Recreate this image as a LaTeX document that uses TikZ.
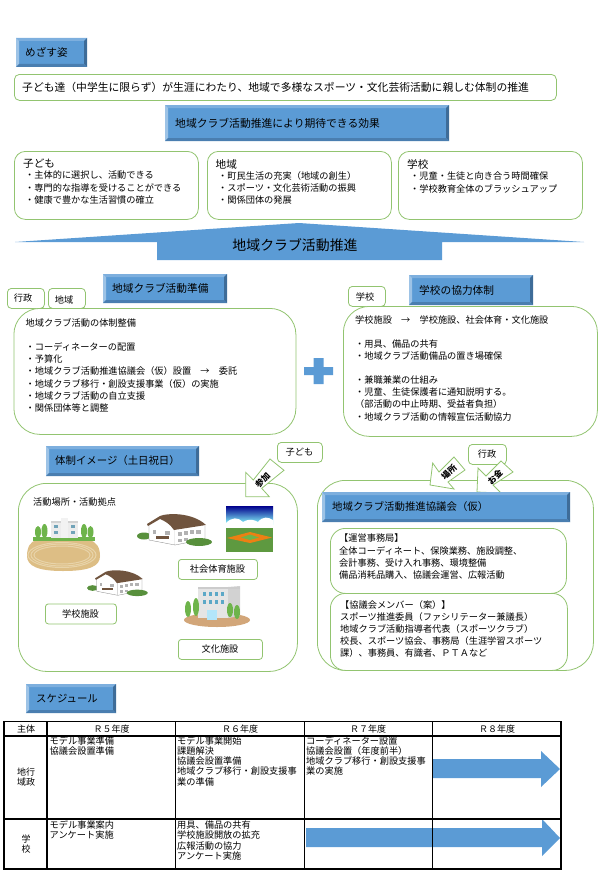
\documentclass[tikz,border=0pt]{standalone}
\usepackage{fontspec}
\setmainfont{Noto Sans CJK JP}
\usepackage{xcolor}
\definecolor{faceblue}{RGB}{91,155,213}
\definecolor{softgreen}{RGB}{146,196,112}
\definecolor{bevellight}{RGB}{125,175,222}
\definecolor{bevelpale}{RGB}{157,195,230}
\definecolor{beveldark}{RGB}{62,108,152}
\definecolor{bevelmid}{RGB}{74,126,176}
\definecolor{roofbrown}{RGB}{112,84,62}
\definecolor{sandtan}{RGB}{232,212,170}
\definecolor{sandedge}{RGB}{221,190,133}
\definecolor{leafgreen}{RGB}{110,180,75}
\tikzset{
  softbox/.style={draw=softgreen,line width=0.8pt,fill=white,inner sep=0pt,anchor=north west},
  plaintext/.style={inner sep=0pt,anchor=north west,align=left,font=\fontsize{9.2}{12.2}\selectfont},
  labeltext/.style={inner sep=0pt,font=\fontsize{9.2}{12.2}\selectfont},
  titletext/.style={inner sep=0pt,anchor=west,font=\fontsize{10.6}{11}\selectfont},
  tablecell/.style={inner sep=0pt,anchor=north west,align=left,font=\fontsize{9.2}{10.3}\selectfont},
  tablehead/.style={inner sep=0pt,font=\fontsize{9}{10}\selectfont},
  blockarrow/.style={fill=faceblue,draw=none},
  sidearrow/.style={fill=white,draw=softgreen,line width=0.8pt},
  sidelabel/.style={inner sep=0pt,rotate=45,font=\fontsize{8.5}{8.5}\selectfont\bfseries},
  thickrule/.style={line width=1.2pt},
  thinrule/.style={line width=0.7pt}
}
\newcommand{\bevelbox}[8]{
  \fill[faceblue] (#2,#3) rectangle (#4,#5);
  \fill[bevellight] (#2,#3)--(#4,#3)--(#4-3,#3+3)--(#2+3,#3+3)--cycle;
  \fill[bevelpale] (#2,#3)--(#2+3,#3+3)--(#2+3,#5-3)--(#2,#5)--cycle;
  \fill[beveldark] (#4,#3)--(#4,#5)--(#4-3,#5-3)--(#4-3,#3+3)--cycle;
  \fill[bevelmid] (#2,#5)--(#4,#5)--(#4-3,#5-3)--(#2+3,#5-3)--cycle;
  \node[inner sep=0pt,anchor=west,font=\fontsize{#7}{#7}\selectfont] (#1) at (#6,#3/2+#5/2) {#8};
}
\newcommand{\gympic}[3]{
  \begin{scope}[shift={(#1,#2)},scale=#3]
    \fill[leafgreen!80!black] (7,21) ellipse (7 and 3.5);
    \fill[white] (12,10)--(23,3)--(38,15)--(38,30)--(12,25)--cycle;
    \draw[gray,line width=0.3pt] (12,10)--(12,25)--(38,30)--(38,15);
    \fill[white] (38,15)--(68,11)--(68,24)--(38,30)--cycle;
    \draw[gray,line width=0.3pt] (68,11)--(68,24)--(38,30);
    \fill[roofbrown] (23,1) .. controls (30,-2) and (55,-3) .. (69,10)--(37,15) .. controls (33,9) and (28,6) .. (23,4) -- (11,11) -- (10,9) --cycle;
    \fill[gray!60] (16,15) rectangle (19,19);
    \fill[gray!60] (28,16) rectangle (33,20);
    \fill[roofbrown] (19,21) rectangle (32,23.5);
    \fill[gray!60] (41,17) rectangle (45,21);
    \fill[gray!60] (47,16) rectangle (51,20);
    \fill[gray!60] (53,15) rectangle (57,19);
    \fill[gray!60] (59,15) rectangle (64,19);
    \fill[gray!60] (41,24) rectangle (45,27);
    \fill[gray!60] (47,23) rectangle (51,26);
    \fill[leafgreen!80!black] (62,27) ellipse (13 and 4);
  \end{scope}
}
\begin{document}
\begin{tikzpicture}[x=1pt,y=-1pt]
  \useasboundingbox (0,0) rectangle (604,883);

  \bevelbox{goalhead}{16}{38}{87}{67}{25}{10.6}{めざす姿}
  \node[softbox,rounded corners=5pt,minimum width=542pt,minimum height=26pt] (goalbox) at (14,74) {};
  \node[labeltext,anchor=west,font=\fontsize{10.8}{12}\selectfont] (goaltext) at (22,87) {子ども達（中学生に限らず）が生涯にわたり、地域で多様なスポーツ・文化芸術活動に親しむ体制の推進};
  \bevelbox{effecthead}{165}{105}{449}{141}{175}{10.8}{地域クラブ活動推進により期待できる効果}

  \node[softbox,rounded corners=11pt,minimum width=184pt,minimum height=68pt] (childbox) at (14,151) {};
  \node[titletext] (childtitle) at (23,164) {子ども};
  \node[plaintext] (childtext) at (25,171) {・主体的に選択し、活動できる\\・専門的な指導を受けることができる\\・健康で豊かな生活習慣の確立};
  \node[softbox,rounded corners=11pt,minimum width=184pt,minimum height=68pt] (areabox) at (207,151) {};
  \node[titletext] (areatitle) at (215.5,164) {地域};
  \node[plaintext] (areatext) at (218,171) {・町民生活の充実（地域の創生）\\・スポーツ・文化芸術活動の振興\\・関係団体の発展};
  \node[softbox,rounded corners=11pt,minimum width=184pt,minimum height=68pt] (schoolbox) at (398,151) {};
  \node[titletext] (schooltitle) at (407,164) {学校};
  \node[plaintext] (schooltext) at (410,172) {・児童・生徒と向き合う時間確保\\・学校教育全体のブラッシュアップ};

  \path[blockarrow] (299,223)--(584,242)--(442,242)--(442,260)--(157,260)--(157,242)--(15,242)--cycle;
  \node[inner sep=0pt,font=\fontsize{13.9}{14}\selectfont] (clubarrow) at (295,245) {地域クラブ活動推進};

  \bevelbox{prephead}{103}{274}{227}{303}{112}{10.7}{地域クラブ活動準備}
  \node[softbox,rounded corners=4pt,minimum width=37pt,minimum height=20pt] (admintag) at (7,288) {};
  \node[labeltext] (admintext) at (23,298.5) {行政};
  \node[softbox,rounded corners=4pt,minimum width=37pt,minimum height=20pt] (areatag) at (48,288) {};
  \node[labeltext] (areatagtext) at (64,299.5) {地域};
  \node[softbox,rounded corners=26pt,minimum width=282pt,minimum height=126pt] (prepbox) at (13.5,308) {};
  \node[plaintext] (preptext) at (25.5,318) {地域クラブ活動の体制整備\\[12.2pt]\hspace{0pt}・コーディネーターの配置\\・予算化\\・地域クラブ活動推進協議会（仮）設置　→　委託\\・地域クラブ移行・創設支援事業（仮）の実施\\・地域クラブ活動の自立支援\\・関係団体等と調整};

  \node[softbox,rounded corners=4pt,minimum width=37pt,minimum height=20pt] (schooltag) at (348,286) {};
  \node[labeltext] (schooltagtext) at (365,296.5) {学校};
  \bevelbox{coophead}{409}{275}{533}{305}{419}{10.7}{学校の協力体制}
  \node[softbox,rounded corners=26pt,minimum width=254pt,minimum height=130pt] (coopbox) at (343,306) {};
  \node[plaintext] (cooptext) at (355,316) {学校施設　→　学校施設、社会体育・文化施設\\[11pt]\hspace{0pt}・用具、備品の共有\\・地域クラブ活動備品の置き場確保\\[12pt]\hspace{0pt}・兼職兼業の仕組み\\・児童、生徒保護者に通知説明する。\\（部活動の中止時期、受益者負担）\\・地域クラブ活動の情報宣伝活動協力};

  \path[blockarrow] (304,367)--(313.5,367)--(313.5,358)--(323.5,358)--(323.5,367)--(333,367)--(333,375)--(323.5,375)--(323.5,384)--(313.5,384)--(313.5,375)--(304,375)--cycle;

  \bevelbox{imagehead}{46}{446}{199}{476}{55}{10.4}{体制イメージ（土日祝日）}
  \node[softbox,rounded corners=28pt,minimum width=279pt,minimum height=188pt] (imagebox) at (18,483) {};
  \node[softbox,rounded corners=4pt,minimum width=45pt,minimum height=20pt] (childtag) at (277,442) {};
  \node[labeltext] (childtagtext) at (299.5,452) {子ども};
  \draw[sidearrow] (245.7,496.7)--(245.7,472.3)--(253.3,480)--(270,459)--(284,470.3)--(261.7,488.3)--(269.3,496.7)--cycle;
  \node[sidelabel] (joinlabel) at (262.5,480.5) {参加};
  \node[labeltext,anchor=west] (placetext) at (33,502) {活動場所・活動拠点};

  % school and ground
  \fill[sandedge] (37,540) -- (88,540) .. controls (97,541) and (100,548) .. (100,556) .. controls (100,566) and (90,571) .. (63,571) .. controls (38,571) and (27,566) .. (27,556) .. controls (27,548) and (30,541) .. (37,540) --cycle;
  \draw[sandtan,line width=1pt] (62,555) ellipse (34 and 12.5);
  \draw[sandtan,line width=1pt] (62,555) ellipse (31 and 11);
  \draw[sandtan,line width=1pt] (62,555) ellipse (28 and 9);
  \fill[leafgreen] (33,537) rectangle (95,541);
  \fill[gray!15] (51,521) rectangle (78,538);
  \fill[gray!35] (51,521) rectangle (78,522.5);
  \fill[gray!10] (61,518) rectangle (68,538);
  \fill[cyan!40!gray] (54,525) rectangle (58,528);
  \fill[cyan!40!gray] (71,525) rectangle (75,528);
  \fill[cyan!40!gray] (54,531) rectangle (58,534);
  \fill[cyan!40!gray] (71,531) rectangle (75,534);
  \fill[leafgreen] (38,532) ellipse (3 and 6);
  \fill[leafgreen] (44.5,531) ellipse (3 and 7);
  \fill[leafgreen] (84,531) ellipse (3 and 7);
  \fill[leafgreen] (90.5,532) ellipse (3 and 6);
  \gympic{137}{515}{1}
  \gympic{87}{571}{0.81}

  % ball park
  \shade[top color=blue!55!black,bottom color=cyan!45!white] (226,506) rectangle (273,524);
  \fill[white] (226,523) .. controls (232,517) and (238,517) .. (243,522) .. controls (250,518) and (254,520) .. (258,522) .. controls (263,516) and (268,517) .. (273,520)--(273,530)--(226,530)--cycle;
  \fill[leafgreen!85!black] (226,528) rectangle (273,552);
  \fill[orange!70!brown] (250,532)--(272,537.5)--(250,543)--(227,538)--cycle;
  \fill[leafgreen] (250,534.5)--(259,537.5)--(250,540)--(241,537.5)--cycle;

  % culture hall
  \fill[brown!70] (217,620) ellipse (33 and 7);
  \fill[gray!20] (198,587) rectangle (228,618);
  \fill[gray!35] (228,587)--(240,586)--(240,616)--(228,618)--cycle;
  \fill[gray!40] (198,587) rectangle (240,589);
  \fill[cyan!55!gray] (203,592) rectangle (206,596);
  \fill[cyan!55!gray] (209,592) rectangle (212,596);
  \fill[cyan!55!gray] (215,592) rectangle (218,596);
  \fill[cyan!55!gray] (221,592) rectangle (224,596);
  \fill[cyan!55!gray] (203,600) rectangle (206,604);
  \fill[cyan!55!gray] (209,600) rectangle (212,604);
  \fill[cyan!55!gray] (215,600) rectangle (218,604);
  \fill[cyan!55!gray] (221,600) rectangle (224,604);
  \fill[cyan!30] (207,610) rectangle (217,620);
  \fill[leafgreen] (188,609) ellipse (3 and 8);
  \fill[leafgreen] (196,607) ellipse (3 and 9);
  \fill[leafgreen] (230,610) ellipse (3 and 7);
  \fill[leafgreen] (237,612) ellipse (3 and 7);

  \node[softbox,rounded corners=3pt,minimum width=79pt,minimum height=20pt] (sportbox) at (178,559) {};
  \node[labeltext] (sporttext) at (217.5,569) {社会体育施設};
  \node[softbox,rounded corners=3pt,minimum width=71pt,minimum height=20pt] (schoolsitebox) at (45,603.5) {};
  \node[labeltext] (schoolsitetext) at (80.5,613.5) {学校施設};
  \node[softbox,rounded corners=3pt,minimum width=84pt,minimum height=20pt] (culturebox) at (178,639) {};
  \node[labeltext] (culturetext) at (220,649) {文化施設};

  \node[softbox,rounded corners=28pt,minimum width=276pt,minimum height=190pt] (councilbox) at (317,480) {};
  \node[softbox,rounded corners=4pt,minimum width=38pt,minimum height=20pt] (admintagb) at (468,444) {};
  \node[labeltext] (admintextb) at (487,454) {行政};
  \draw[sidearrow] (430,485)--(432.7,463)--(439,472)--(454,457)--(465,470)--(448,482)--(454,489)--cycle;
  \node[sidelabel] (placelabel) at (449,472.5) {場所};
  \draw[sidearrow] (477,492)--(478,468)--(486,476)--(501,461)--(513,472)--(493,485)--(501,493)--cycle;
  \node[sidelabel] (moneylabel) at (495,477.5) {お金};
  \bevelbox{councilhead}{322}{492}{570}{522}{332}{10.4}{地域クラブ活動推進協議会（仮）}
  \node[softbox,rounded corners=15pt,minimum width=236pt,minimum height=65pt] (officebox) at (330,528) {};
  \node[plaintext] (officetext) at (339,534) {【運営事務局】\\全体コーディネート、保険業務、施設調整、\\会計事務、受け入れ事務、環境整備\\備品消耗品購入、協議会運営、広報活動};
  \node[softbox,rounded corners=15pt,minimum width=237pt,minimum height=77pt] (memberbox) at (330,593) {};
  \node[plaintext] (membertext) at (340,600) {【協議会メンバー（案）】\\スポーツ推進委員（ファシリテーター兼議長）\\地域クラブ活動指導者代表（スポーツクラブ）\\校長、スポーツ協会、事務局（生涯学習スポーツ\\課）、事務員、有識者、ＰＴＡなど};

  \bevelbox{planhead}{26}{684}{116}{713}{36}{10.4}{スケジュール}

  \node[tablehead] (bodyhead) at (26,729) {主体};
  \node[tablehead] (yearfive) at (111.5,729) {Ｒ５年度};
  \node[tablehead] (yearsix) at (240,729) {Ｒ６年度};
  \node[tablehead] (yearseven) at (368,729) {Ｒ７年度};
  \node[tablehead] (yeareight) at (497,729) {Ｒ８年度};
  \node[tablehead,align=center,font=\fontsize{9}{10.5}\selectfont] (adminrow) at (26,777) {地行\\域政};
  \node[tablehead,align=center,font=\fontsize{9}{10.5}\selectfont] (schoolrow) at (26,844) {学\\校};
  \node[tablecell] (adminfive) at (49.5,736) {モデル事業準備\\協議会設置準備};
  \node[tablecell] (adminsix) at (177,736) {モデル事業開始\\課題解決\\協議会設置準備\\地域クラブ移行・創設支援事\\業の準備};
  \node[tablecell] (adminseven) at (306,736) {コーディネーター設置\\協議会設置（年度前半）\\地域クラブ移行・創設支援事\\業の実施};
  \node[tablecell] (schoolfive) at (49.5,820.5) {モデル事業案内\\アンケート実施};
  \node[tablecell] (schoolsix) at (177,820.5) {用具、備品の共有\\学校施設開放の拡充\\広報活動の協力\\アンケート実施};
  \path[blockarrow] (433,759)--(541,759)--(541,751)--(560,769)--(541,787)--(541,778)--(433,778)--cycle;
  \path[blockarrow] (306,828)--(542,828)--(542,819)--(560,838)--(542,856)--(542,847)--(306,847)--cycle;

  \draw[thickrule] (4,721.5) rectangle (561,869);
  \draw[thickrule] (4,736)--(561,736);
  \draw[thickrule] (4,819)--(561,819);
  \draw[thickrule] (47,721.5)--(47,869);
  \draw[thickrule] (175.5,721.5)--(175.5,869);
  \draw[thinrule] (304,721.5)--(304,869);
  \draw[thinrule] (432,721.5)--(432,869);
\end{tikzpicture}
\end{document}
